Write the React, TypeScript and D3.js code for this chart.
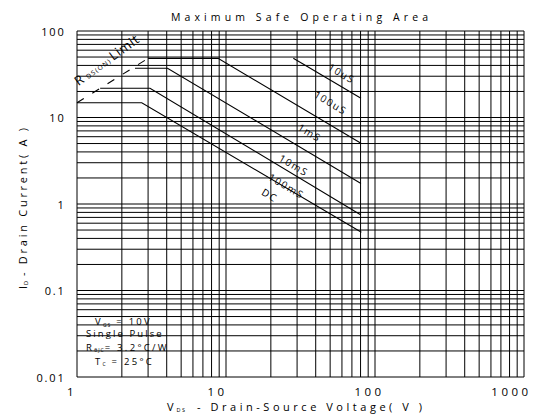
import React from 'react';
import * as d3 from 'd3';

// Axis ticks
const xTicks = [1, 10, 100, 1000];
const xTickLabels = ['1', '10', '100', '1000'];
const yTicks = [0.01, 0.1, 1, 10, 100];
const yTickLabels = ['0.01', '0.1', '1', '10', '100'];

// SOA boundary curves (V, A)
const curve10us = [[28.3, 48.3], [80.5, 16.7]];
const curve100us = [[3.0, 48.3], [8.84, 48.3], [80.5, 5.03]];
const curve1ms = [[2.45, 37.1], [4.05, 37.1], [80.5, 1.73]];
const curve10ms = [[1.43, 21.8], [3.09, 21.8], [80.5, 0.747]];
const curveDC = [[1, 14.8], [2.72, 14.8], [81, 0.471]];
const rdsLimit = [[1, 14.8], [3.0, 48.3]];

// Curve labels (anchor in data units)
const curveLabels = ['10uS', '100uS', '1mS', '10mS', '100mS', 'DC'];
const curveLabelV = [59.8, 50.5, 36.5, 28.6, 25.5, 19.7];
const curveLabelI = [32.4, 14.9, 6.71, 2.82, 1.62, 1.27];

const W = 534;
const H = 419;
const left = 77;
const right = 524;
const top = 31;
const bottom = 377;

const FONT = "'Open Sans', 'DejaVu Sans', sans-serif";

export default function App() {
  const x = d3.scaleLog().domain([1, 1000]).range([left, right]);
  const y = d3.scaleLog().domain([0.01, 100]).range([bottom, top]);
  const line = d3
    .line<number[]>()
    .x((d) => x(d[0]))
    .y((d) => y(d[1]));

  const xGrid = x.ticks();
  const yGrid = y.ticks();

  const curves = [curve10us, curve100us, curve1ms, curve10ms, curveDC];

  // angle of the sloped portion
  const p0 = curve100us[1];
  const p1 = curve100us[2];
  const angle =
    (Math.atan2(y(p1[1]) - y(p0[1]), x(p1[0]) - x(p0[0])) * 180) / Math.PI;

  const r0 = rdsLimit[0];
  const r1 = rdsLimit[1];
  const rAngle =
    (Math.atan2(y(r1[1]) - y(r0[1]), x(r1[0]) - x(r0[0])) * 180) / Math.PI;

  const xTickDx = [-5, -8.5, -5.5, -12.5];

  const rdsLabelV = 1.025;
  const rdsLabelI = 23;

  return (
    <svg
      width={W}
      height={H}
      style={{ position: 'absolute', left: 0, top: 0, background: '#fff' }}
      fontFamily={FONT}
    >
      <rect x={0} y={0} width={W} height={H} fill="#fff" />
      {/* grid */}
      <g stroke="#000" strokeWidth={1}>
        {xGrid.map((v, i) => (
          <line key={'gx' + i} x1={x(v)} x2={x(v)} y1={top} y2={bottom} />
        ))}
        {yGrid.map((v, i) => (
          <line key={'gy' + i} x1={left} x2={right} y1={y(v)} y2={y(v)} />
        ))}
      </g>

      {/* curves */}
      <g fill="none" stroke="#000" strokeWidth={1.1}>
        {curves.map((c, i) => (
          <path key={'c' + i} d={line(c as number[][]) || ''} />
        ))}
        <path d={line(rdsLimit as number[][]) || ''} strokeDasharray="8,10" />
      </g>

      {/* curve labels */}
      <g fontSize={10} fill="#000" letterSpacing={1.5}>
        {curveLabels.map((t, i) => (
          <text
            key={'cl' + i}
            x={x(curveLabelV[i])}
            y={y(curveLabelI[i])}
            textAnchor="middle"
            dominantBaseline="central"
            transform={`rotate(${angle} ${x(curveLabelV[i])} ${y(curveLabelI[i])})`}
          >
            {t}
          </text>
        ))}
      </g>

      {/* RDS(on) limit label */}
      <text
        x={x(rdsLabelV)}
        y={y(rdsLabelI)}
        fontSize={13}
        transform={`rotate(${rAngle - 4} ${x(rdsLabelV)} ${y(rdsLabelI)})`}
      >
        <tspan>R</tspan>
        <tspan fontSize={6.5} dx={4} letterSpacing={1.2}>DS(ON)</tspan>
        <tspan dx={1.5} fontSize={13} letterSpacing={0.8}>Limit</tspan>
      </text>

      {/* conditions */}
      <g fontSize={9.5} fill="#000" letterSpacing={2.3}>
        <text x={95} y={325}>
          <tspan>V</tspan>
          <tspan fontSize={5} dy={1.5} letterSpacing={1}>GS</tspan>
          <tspan dy={-1.5}> = 10V</tspan>
        </text>
        <text x={86} y={337} textLength={78} lengthAdjust="spacing">Single Pulse</text>
        <text x={86} y={350.5}>
          <tspan>R</tspan>
          <tspan fontSize={5} dy={1.5} letterSpacing={1}>θJC</tspan>
          <tspan dy={-1.5}>= 3.2°C/W</tspan>
        </text>
        <text x={95} y={364.5}>
          <tspan>T</tspan>
          <tspan fontSize={5} dy={1.5} letterSpacing={1}>C</tspan>
          <tspan dy={-1.5}> = 25°C</tspan>
        </text>
      </g>

      {/* y tick labels */}
      <g fontSize={11} fill="#000" letterSpacing={1.8}>
        {yTicks.map((v, i) => (
          <text key={'yt' + i} x={65.5} y={y(v)} textAnchor="end" dominantBaseline="central">
            {yTickLabels[i]}
          </text>
        ))}
      </g>

      {/* x tick labels */}
      <g fontSize={11.5} fill="#000" letterSpacing={3.5}>
        {xTicks.map((v, i) => (
          <text key={'xt' + i} x={x(v) + xTickDx[i]} y={396} textAnchor="middle">
            {xTickLabels[i]}
          </text>
        ))}
      </g>

      {/* title */}
      <text x={171} y={20.5} fontSize={10.5} textLength={257} lengthAdjust="spacing">
        Maximum Safe Operating Area
      </text>

      {/* x axis label */}
      <text x={167} y={410.5} fontSize={11}>
        <tspan>V</tspan>
        <tspan fontSize={5.5} dx={3} dy={1} letterSpacing={1.5}>DS</tspan>
      </text>
      <text x={197} y={410.5} fontSize={11} textLength={225} lengthAdjust="spacing">
        - Drain-Source Voltage( V )
      </text>

      {/* y axis label */}
      <g transform="translate(27,0) rotate(-90)">
        <text x={-289} y={0} fontSize={11}>
          <tspan>I</tspan>
          <tspan fontSize={5.5} dx={1} dy={1}>D</tspan>
        </text>
        <text x={-276} y={0} fontSize={11} textLength={148} lengthAdjust="spacing">
          - Drain Current( A )
        </text>
      </g>
    </svg>
  );
}
